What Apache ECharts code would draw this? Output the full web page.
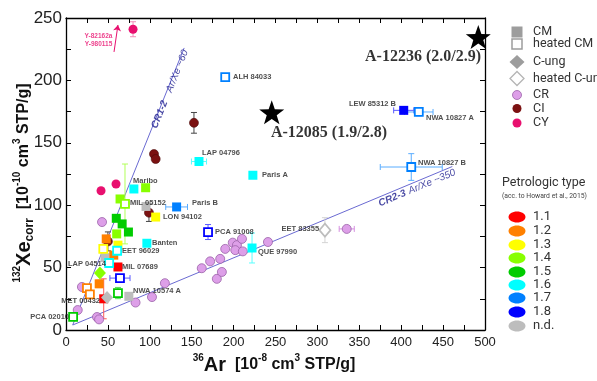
<!DOCTYPE html>
<html>
<head>
<meta charset="utf-8">
<script src="https://cdn.jsdelivr.net/npm/echarts@6/dist/echarts.min.js"></script>
<style>
  html, body { margin: 0; padding: 0; background: #fff; }
  #main { width: 597px; height: 381px; }
</style>
</head>
<body>
<div id="main"></div>
<script>
// petrologic type -> colour
const petroTypes = ["1.1", "1.2", "1.3", "1.4", "1.5", "1.6", "1.7", "1.8", "n.d."];
const petroColors = ["#ff0000", "#ff8000", "#ffff00", "#88ff00", "#00cc00", "#00ffff", "#0080ff", "#0000ff", "#bdbdbd"];

// [36Ar, 132Xe, petrologic type, x error, y error]
const cmPoints = [
  [81, 113, "1.6", 4, 0],
  [95, 114, "1.4", 0, 0],
  [64.5, 105, "1.4", 0, 0],
  [60, 89.5, "1.5", 0, 0],
  [67, 85, "1.5", 0, 0],
  [74.5, 78.5, "1.5", 0, 0],
  [60.5, 77, "1.4", 0, 0],
  [48, 73, "1.2", 0, 0],
  [62, 68, "1.3", 0, 0],
  [46.5, 58, "n.d.", 0, 0],
  [57, 60, "1.2", 0, 0],
  [62, 50.5, "1.1", 0, 0],
  [39.6, 37, "1.2", 0, 3],
  [45, 25, "1.1", 0, 16],
  [75, 27, "n.d.", 0, 0],
  [95.5, 99, "n.d.", 0, 0],
  [107, 90.5, "1.3", 0, 0],
  [96.5, 69.5, "1.6", 0, 0],
  [132, 98.6, "1.7", 13, 0],
  [158.7, 135, "1.6", 9, 0],
  [223, 124, "1.6", 0, 0],
  [222, 65.7, "1.6", 0, 12],
  [403, 176, "1.8", 12, 0]
];
const heatedCmPoints = [
  [70.4, 101, "1.4", 0, 32],
  [44.5, 65, "1.3", 0, 0],
  [61, 63.5, "1.6", 0, 0],
  [51.5, 53.7, "1.6", 0, 0],
  [64.4, 41.6, "1.8", 12, 0],
  [62, 29.6, "1.5", 0, 4.5],
  [25, 33.6, "1.2", 0, 0],
  [28.5, 28.5, "1.2", 0, 0],
  [8.5, 10.5, "1.5", 0, 0],
  [169.5, 78.5, "1.8", 0, 6],
  [190, 202.7, "1.7", 0, 0],
  [421, 174.7, "1.7", 17, 3],
  [412, 130.6, "1.7", 37, 10.7]
];
const cungPoints = [
  [40.5, 45.7, "1.4", 0, 0],
  [49, 26, "n.d.", 0, 0]
];
const heatedCungPoints = [
  [309, 80, "n.d.", 0, 10]
];
// [36Ar, 132Xe, x error, y error]
const crPoints = [
  [43, 86.5, 0, 0], [19, 34.5, 0, 0], [14, 16, 0, 0], [37, 10.4, 0, 0], [39.5, 8.5, 0, 0],
  [83, 22, 0, 0], [102.6, 26.4, 0, 0], [118, 37.5, 0, 0], [162, 49.5, 0, 0], [172, 55, 0, 0],
  [180, 41, 0, 0], [186, 46.5, 0, 0], [184, 57, 0, 0], [190, 65, 0, 0], [199, 70, 0, 0],
  [204, 68, 0, 0], [202, 64, 0, 0], [210, 73, 0, 0], [211, 63, 0, 0], [241, 70.5, 0, 0],
  [335, 81, 9, 0]
];
const ciPoints = [
  [50, 71, 0, 7.6], [99, 94, 0, 7], [105, 141, 0, 0], [107, 137, 0, 0], [152.7, 166, 0, 8.3]
];
const cyPoints = [
  [41.8, 111.6, 0, 0], [59.7, 117, 0, 0], [80, 241, 0, 6]
];
const starPoints = [[245.5, 174.4], [492, 234.8]];

// reference lines through the CR chondrites
const crLine12 = [[8, 4], [141, 226]];
const crLine23 = [[8, 4], [461, 131]];
const arrowLine = [[57.3, 222.8], [62, 244.4]];

// [text, 36Ar, 132Xe, side]
const sampleLabels = [
  ["ALH 84033", 199.3, 202.7, "r"],
  ["LAP 04796", 162.3, 141.8, "r"],
  ["Paris A", 233.9, 124.2, "r"],
  ["LEW 85312 B", 393.8, 181.1, "l"],
  ["NWA 10827 A", 429.6, 169.9, "r"],
  ["NWA 10827 B", 420, 133.8, "r"],
  ["Maribo", 80, 119.4, "r"],
  ["MIL 05152", 76.4, 101.8, "r"],
  ["Paris B", 150.4, 101.8, "r"],
  ["LON 94102", 115.8, 90.5, "r"],
  ["PCA 91008", 177.8, 78.5, "r"],
  ["Banten", 102.6, 69.7, "r"],
  ["EET 96029", 66.8, 63.3, "r"],
  ["EET 83355", 302, 80.9, "l"],
  ["QUE 97990", 229, 62.5, "r"],
  ["LAP 04514", 2.4, 52.9, "r"],
  ["MIL 07689", 66.8, 50.5, "r"],
  ["NWA 10574 A", 80, 31.3, "r"],
  ["MET 00432", 40.6, 23.2, "l"],
  ["PCA 02010", 3.6, 10.4, "l"]
];
const starLabels = [
  ["A-12085 (1.9/2.8)", 244.6, 157.9, "r"],
  ["A-12236 (2.0/2.9)", 495.2, 218.8, "l"]
];

const xTicks = [0, 500, 50];
const yTicks = [0, 250, 50];

const crFill = "#dd9fe8", crBorder = "#9a62a8";
const ciColor = "#7b1111", cyColor = "#e8106f";

function colorOf(code) {
  return petroColors[petroTypes.indexOf(code)];
}
function tint(hex, k) {
  const n = parseInt(hex.slice(1), 16);
  const r = n >> 16, g = (n >> 8) & 255, b = n & 255;
  const m = v => Math.round(v + (255 - v) * k);
  return "rgb(" + m(r) + "," + m(g) + "," + m(b) + ")";
}

// collect error bars
const errBars = [];
const errCols = [];
function addErr(x, y, ex, ey, col) {
  if (ex || ey) {
    errBars.push([x, y, ex, ey]);
    errCols.push(col);
  }
}
[cmPoints, heatedCmPoints, cungPoints, heatedCungPoints].forEach(arr =>
  arr.forEach(p => addErr(p[0], p[1], p[3], p[4], tint(colorOf(p[2]), 0.35)))
);
crPoints.forEach(p => addErr(p[0], p[1], p[2], p[3], "#d58ee0"));
ciPoints.forEach(p => addErr(p[0], p[1], p[2], p[3], "#444"));
cyPoints.forEach(p => addErr(p[0], p[1], p[2], p[3], "#f28cb8"));

function filled(arr) {
  return arr.map(p => ({ value: [p[0], p[1]], itemStyle: { color: colorOf(p[2]), opacity: 1 } }));
}
function open(arr) {
  return arr.map(p => ({
    value: [p[0], p[1]],
    itemStyle: { color: "#fff", borderColor: colorOf(p[2]), borderWidth: 1.8, opacity: 1 }
  }));
}
function labelItems(arr) {
  return arr.map(l => ({
    name: l[0],
    value: [l[1], l[2]],
    label: { position: l[3] === "l" ? "left" : "right" }
  }));
}

const chart = echarts.init(document.getElementById("main"));

const axisCommon = {
  type: "value",
  splitLine: { show: false },
  axisLine: { onZero: false, lineStyle: { color: "#000", width: 1.3 } },
  axisTick: { inside: true, length: 5, lineStyle: { color: "#000", width: 1 } },
  minorTick: { show: true, splitNumber: 2, length: 5, lineStyle: { color: "#000", width: 1 } }
};

// legend (drawn by hand)
const legendX = 517, legendTextX = 533;
const gray = "#9d9d9d";
const graphics = [
  { type: "rect", shape: { x: legendX - 5.5, y: 26.5, width: 11, height: 11 }, style: { fill: gray } },
  { type: "rect", shape: { x: legendX - 5, y: 39, width: 10, height: 10 }, style: { fill: "#fff", stroke: gray, lineWidth: 1.5 } },
  { type: "polygon", shape: { points: [[legendX, 55], [legendX + 7.5, 62], [legendX, 69], [legendX - 7.5, 62]] }, style: { fill: gray } },
  { type: "polygon", shape: { points: [[legendX, 71.5], [legendX + 7, 78.5], [legendX, 85.5], [legendX - 7, 78.5]] }, style: { fill: "#fff", stroke: "#b5b5b5", lineWidth: 1.3 } },
  { type: "circle", shape: { cx: legendX, cy: 95, r: 4.5 }, style: { fill: crFill, stroke: crBorder, lineWidth: 0.8 } },
  { type: "circle", shape: { cx: legendX, cy: 108.5, r: 4.5 }, style: { fill: ciColor } },
  { type: "circle", shape: { cx: legendX, cy: 123, r: 4.5 }, style: { fill: cyColor } }
];
const legendNames = [["CM", 32], ["heated CM", 44], ["C-ung", 62], ["heated C-ung", 78.5], ["CR", 95], ["CI", 108.5], ["CY", 123]];
legendNames.forEach(n => {
  graphics.push({
    type: "text", x: legendTextX, y: n[1],
    style: { text: n[0], fill: "#333", font: "12.5px Roboto", align: "left", verticalAlign: "middle", textAlign: "left", textVerticalAlign: "middle" }
  });
});
graphics.push({
  type: "text", x: 502, y: 183,
  style: { text: "Petrologic type", fill: "#333", font: "12.5px Roboto", align: "left", verticalAlign: "middle", textAlign: "left", textVerticalAlign: "middle" }
});
graphics.push({
  type: "text", x: 502, y: 196,
  style: { text: "(acc. to Howard et al., 2015)", fill: "#444", font: "6.8px Roboto", align: "left", verticalAlign: "middle", textAlign: "left", textVerticalAlign: "middle" }
});
const petroY = [217, 231, 245, 258, 272, 285, 298, 312, 326];
petroTypes.forEach((t, i) => {
  graphics.push({ type: "ellipse", shape: { cx: legendX, cy: petroY[i], rx: 8.5, ry: 5.5 }, style: { fill: petroColors[i] } });
  graphics.push({
    type: "text", x: legendTextX, y: petroY[i],
    style: { text: t, fill: "#333", font: "13px Roboto", align: "left", verticalAlign: "middle", textAlign: "left", textVerticalAlign: "middle" }
  });
});

// axis titles with super/subscripts
const titleRich = {
  sup: { fontSize: 10, fontWeight: "bold", fontFamily: "Liberation Sans", verticalAlign: "top", lineHeight: 10, fill: "#111" },
  sub: { fontSize: 12, fontWeight: "bold", fontFamily: "Liberation Sans", verticalAlign: "bottom", lineHeight: 12, fill: "#111" },
  big: { fontSize: 20, fontWeight: "bold", fontFamily: "Liberation Sans", lineHeight: 24, fill: "#111" },
  t: { fontSize: 16, fontWeight: "bold", fontFamily: "Liberation Sans", lineHeight: 24, fill: "#111" }
};
graphics.push({
  type: "text", x: 274, y: 365,
  style: {
    text: "{sup|36}{big|Ar}{t|  [10}{sup|-8}{t| cm}{sup|3}{t| STP/g]}",
    rich: titleRich, align: "center", verticalAlign: "middle", textAlign: "center", textVerticalAlign: "middle"
  }
});
graphics.push({
  type: "text", x: 24, y: 183, rotation: Math.PI / 2,
  style: {
    text: "{sup|132}{big|Xe}{sub|corr}{t|  [10}{sup|-10}{t| cm}{sup|3}{t| STP/g]}",
    rich: titleRich, align: "center", verticalAlign: "middle", textAlign: "center", textVerticalAlign: "middle"
  }
});

const starPath = "path://M0,-10L2.35,-3.24L9.51,-3.09L3.8,1.24L5.88,8.09L0,4L-5.88,8.09L-3.8,1.24L-9.51,-3.09L-2.35,-3.24Z";

chart.setOption({
  animation: false,
  backgroundColor: "#fff",
  grid: { left: 66, right: 112, top: 18, bottom: 51 },
  xAxis: [
    Object.assign({}, axisCommon, {
      min: xTicks[0], max: xTicks[1], interval: xTicks[2], position: "bottom",
      axisLabel: { fontSize: 13, color: "#222", margin: 6, fontFamily: "Liberation Sans" }
    }),
    Object.assign({}, axisCommon, {
      min: xTicks[0], max: xTicks[1], interval: xTicks[2], position: "top",
      axisLabel: { show: false }
    })
  ],
  yAxis: [
    Object.assign({}, axisCommon, {
      min: yTicks[0], max: yTicks[1], interval: yTicks[2], position: "left",
      axisLabel: { fontSize: 17, color: "#222", margin: 4, fontFamily: "Liberation Sans" }
    }),
    Object.assign({}, axisCommon, {
      min: yTicks[0], max: yTicks[1], interval: yTicks[2], position: "right",
      axisLabel: { show: false }
    })
  ],
  graphic: graphics,
  series: [
    {
      type: "line", data: crLine12, symbol: "none", silent: true, z: 1,
      lineStyle: { color: "#6a6ad2", width: 1 }
    },
    {
      type: "line", data: crLine23, symbol: "none", silent: true, z: 1,
      lineStyle: { color: "#6a6ad2", width: 1 }
    },
    {
      type: "custom", data: errBars, z: 2, silent: true,
      encode: { x: 0, y: 1 },
      renderItem: function (params, api) {
        const x = api.value(0), y = api.value(1), ex = api.value(2), ey = api.value(3);
        const style = { stroke: errCols[params.dataIndex], lineWidth: 1, fill: null };
        const kids = [];
        const cap = 3;
        const seg = (x1, y1, x2, y2) => kids.push({ type: "line", shape: { x1, y1, x2, y2 }, style });
        if (ex > 0) {
          const a = api.coord([x - ex, y]), b = api.coord([x + ex, y]);
          seg(a[0], a[1], b[0], b[1]);
          seg(a[0], a[1] - cap, a[0], a[1] + cap);
          seg(b[0], b[1] - cap, b[0], b[1] + cap);
        }
        if (ey > 0) {
          const a = api.coord([x, y - ey]), b = api.coord([x, y + ey]);
          seg(a[0], a[1], b[0], b[1]);
          seg(a[0] - cap, a[1], a[0] + cap, a[1]);
          seg(b[0] - cap, b[1], b[0] + cap, b[1]);
        }
        return { type: "group", children: kids };
      }
    },
    {
      name: "CR", type: "scatter", symbol: "circle", symbolSize: 9, z: 3,
      itemStyle: { color: crFill, borderColor: crBorder, borderWidth: 0.8, opacity: 1 },
      data: crPoints.map(p => [p[0], p[1]])
    },
    {
      name: "CI", type: "scatter", symbol: "circle", symbolSize: 9, z: 3,
      itemStyle: { color: ciColor, borderColor: "#4a0808", borderWidth: 0.6, opacity: 1 },
      data: ciPoints.map(p => [p[0], p[1]])
    },
    {
      name: "CY", type: "scatter", symbol: "circle", symbolSize: 9, z: 3,
      itemStyle: { color: cyColor, opacity: 1 },
      data: cyPoints.map(p => [p[0], p[1]])
    },
    { name: "CM", type: "scatter", symbol: "rect", symbolSize: 9, z: 4, itemStyle: { opacity: 1 }, data: filled(cmPoints) },
    { name: "heated CM", type: "scatter", symbol: "rect", symbolSize: 8, z: 4, itemStyle: { opacity: 1 }, data: open(heatedCmPoints) },
    { name: "C-ung", type: "scatter", symbol: "diamond", symbolSize: [12, 13], z: 4, itemStyle: { opacity: 1 }, data: filled(cungPoints) },
    { name: "heated C-ung", type: "scatter", symbol: "diamond", symbolSize: [11, 13], z: 4, itemStyle: { opacity: 1 }, data: open(heatedCungPoints) },
    {
      type: "scatter", symbol: starPath, symbolSize: [25, 24], clip: false, z: 5,
      itemStyle: { color: "#000", opacity: 1 }, data: starPoints
    },
    {
      type: "scatter", symbolSize: 0, z: 6, silent: true, data: labelItems(sampleLabels),
      label: {
        show: true, distance: 0, formatter: p => p.name,
        fontSize: 7.5, fontWeight: "bold", color: "#222", fontFamily: "Liberation Sans"
      }
    },
    {
      type: "scatter", symbolSize: 0, z: 6, silent: true, data: labelItems(starLabels),
      label: {
        show: true, distance: 0, formatter: p => p.name,
        fontSize: 16, fontWeight: "bold", color: "#000", fontFamily: "Liberation Serif"
      }
    },
    {
      type: "scatter", symbolSize: 0, z: 6, silent: true,
      data: [
        { name: "{b|CR1-2}   {n|Ar/Xe ~60}", value: [124, 193], label: { rotate: 68 } },
        { name: "{b|CR2-3} {n|Ar/Xe ~350}", value: [418.9, 113.8], label: { rotate: 22.7 } }
      ],
      label: {
        show: true, position: "inside", formatter: p => p.name,
        rich: {
          b: { fontSize: 10, fontWeight: "bold", fontStyle: "italic", color: "#1a1a8c", fontFamily: "Liberation Sans" },
          n: { fontSize: 10, fontStyle: "italic", color: "#1a1a8c", fontFamily: "Liberation Sans" }
        }
      }
    },
    {
      type: "scatter", symbolSize: 0, z: 6, silent: true,
      data: [{ name: "Y-82162a\nY-980115", value: [38.8, 232] }],
      label: {
        show: true, position: "inside", formatter: p => p.name, lineHeight: 8,
        fontSize: 6.5, fontWeight: "bold", color: cyColor, fontFamily: "Liberation Sans"
      },
      markLine: {
        silent: true, symbol: ["none", "arrow"], symbolSize: 6,
        label: { show: false },
        lineStyle: { color: cyColor, width: 1, type: "solid" },
        data: [[{ coord: arrowLine[0] }, { coord: arrowLine[1] }]]
      }
    }
  ]
});
</script>
</body>
</html>
